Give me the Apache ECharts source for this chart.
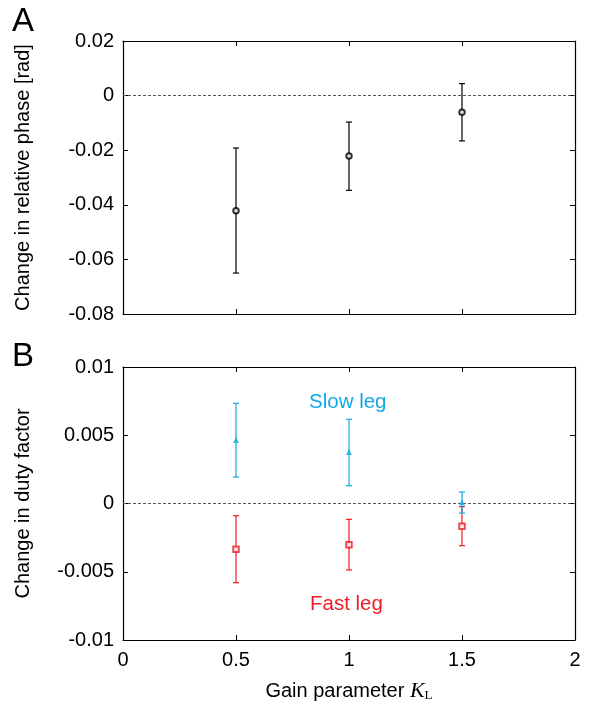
<!DOCTYPE html>
<html>
<head>
<meta charset="utf-8">
<script src="https://cdn.jsdelivr.net/npm/echarts@6/dist/echarts.min.js"></script>
<style>
  html, body { margin: 0; padding: 0; background: #fff; }
  #chart { width: 592px; height: 709px; }
</style>
</head>
<body>
<div id="chart"></div>
<script>
// data
const gains = [0.5, 1, 1.5];

// panel A: change in relative phase [rad]
const phaseMean = [-0.0422, -0.0221, -0.0061];
const phaseLow = [-0.0650, -0.0347, -0.0166];
const phaseHigh = [-0.0192, -0.0097, 0.0044];

// panel B: change in duty factor
const slowMean = [0.00465, 0.00377, 0.00009];
const slowLow = [0.00194, 0.00130, -0.00070];
const slowHigh = [0.00734, 0.00617, 0.00084];
const fastMean = [-0.00336, -0.00302, -0.00167];
const fastLow = [-0.00580, -0.00487, -0.00309];
const fastHigh = [-0.00089, -0.00116, -0.00023];

const xRange = [0, 2, 0.5];
const phaseRange = [-0.08, 0.02, 0.02];
const dutyRange = [-0.01, 0.01, 0.005];

const FONT = 'Liberation Sans';
const BLUE = '#12aae6';
const RED = '#ee1c25';

const chartDom = document.getElementById('chart');
const chart = echarts.init(chartDom);

function fmtNum(v) {
    if (Math.abs(v) < 1e-12) return '0';
    return String(Math.round(v * 1e6) / 1e6);
}

// one axis of the box, ticks pointing inward
function boxAxis(grid, pos, range, labels) {
    return {
        type: 'value',
        gridIndex: grid,
        position: pos,
        min: range[0],
        max: range[1],
        interval: range[2],
        axisLine: { show: true, onZero: false, lineStyle: { color: '#000', width: 1.2 } },
        axisTick: { show: true, inside: true, length: 5, lineStyle: { color: '#000', width: 1 } },
        axisLabel: {
            show: labels,
            color: '#000',
            fontFamily: FONT,
            fontSize: 20,
            margin: 9,
            formatter: fmtNum
        },
        splitLine: { show: false }
    };
}

function errorBar(color) {
    return function (params, api) {
        const x = api.value(0);
        const lo = api.coord([x, api.value(1)]);
        const hi = api.coord([x, api.value(2)]);
        const w = 3;
        const style = { stroke: color, lineWidth: 1.2 };
        return {
            type: 'group',
            children: [
                { type: 'line', shape: { x1: lo[0], y1: lo[1], x2: hi[0], y2: hi[1] }, style: style },
                { type: 'line', shape: { x1: lo[0] - w, y1: lo[1], x2: lo[0] + w, y2: lo[1] }, style: style },
                { type: 'line', shape: { x1: hi[0] - w, y1: hi[1], x2: hi[0] + w, y2: hi[1] }, style: style }
            ]
        };
    };
}

const zeroLine = {
    silent: true,
    symbol: ['none', 'none'],
    label: { show: false },
    lineStyle: { type: [3, 2], color: '#555', width: 1 },
    data: [{ yAxis: 0 }]
};

const xA = boxAxis(0, 'bottom', xRange, false);
const xATop = boxAxis(0, 'top', xRange, false);
const xB = boxAxis(1, 'bottom', xRange, true);
xB.axisLabel.margin = 10;
xB.name = 'Gain parameter {k|K}{l|L}';
xB.nameLocation = 'middle';
xB.nameGap = 40;
xB.nameTextStyle = {
    color: '#000',
    fontFamily: FONT,
    fontSize: 20,
    rich: {
        k: { fontFamily: 'Liberation Serif', fontStyle: 'italic', fontSize: 22, color: '#000' },
        l: { fontFamily: 'Liberation Serif', fontSize: 13, color: '#000', verticalAlign: 'bottom', padding: [6, 0, 0, 0] }
    }
};
const xBTop = boxAxis(1, 'top', xRange, false);

const yA = boxAxis(0, 'left', phaseRange, true);
yA.name = 'Change in relative phase [rad]';
yA.nameLocation = 'middle';
yA.nameGap = 90;
yA.nameTextStyle = { color: '#000', fontFamily: FONT, fontSize: 20 };
const yARight = boxAxis(0, 'right', phaseRange, false);

const yB = boxAxis(1, 'left', dutyRange, true);
yB.name = 'Change in duty factor';
yB.nameLocation = 'middle';
yB.nameGap = 90;
yB.nameTextStyle = { color: '#000', fontFamily: FONT, fontSize: 20 };
const yBRight = boxAxis(1, 'right', dutyRange, false);

const option = {
    animation: false,
    backgroundColor: '#fff',
    grid: [
        { left: 123, top: 41, width: 452, height: 273 },
        { left: 123, top: 367, width: 452, height: 273 }
    ],
    xAxis: [xA, xATop, xB, xBTop],
    yAxis: [yA, yARight, yB, yBRight],
    graphic: [
        { type: 'text', left: 12, top: 5, style: { text: 'A', font: '33px "Liberation Sans"', fill: '#000' } },
        { type: 'text', left: 12, top: 340, style: { text: 'B', font: '33px "Liberation Sans"', fill: '#000' } },
        { type: 'text', left: 309, top: 392, style: { text: 'Slow leg', font: '20.5px "Liberation Sans"', fill: BLUE } },
        { type: 'text', left: 310, top: 594, style: { text: 'Fast leg', font: '20.5px "Liberation Sans"', fill: RED } }
    ],
    series: [
        {
            type: 'custom',
            xAxisIndex: 0, yAxisIndex: 0,
            renderItem: errorBar('#000'),
            data: gains.map((g, i) => [g, phaseLow[i], phaseHigh[i]]),
            z: 2
        },
        {
            type: 'scatter',
            xAxisIndex: 0, yAxisIndex: 0,
            symbol: 'emptyCircle',
            symbolSize: 5.5,
            itemStyle: { color: '#000', borderColor: '#000', borderWidth: 0.9 },
            data: gains.map((g, i) => [g, phaseMean[i]]),
            markLine: zeroLine,
            z: 3
        },
        {
            type: 'custom',
            xAxisIndex: 2, yAxisIndex: 2,
            renderItem: errorBar(RED),
            data: gains.map((g, i) => [g, fastLow[i], fastHigh[i]]),
            z: 2
        },
        {
            type: 'scatter',
            xAxisIndex: 2, yAxisIndex: 2,
            symbol: 'emptyRect',
            symbolSize: 5.5,
            itemStyle: { color: RED, borderColor: RED, borderWidth: 0.9 },
            data: gains.map((g, i) => [g, fastMean[i]]),
            markLine: zeroLine,
            z: 3
        },
        {
            type: 'custom',
            xAxisIndex: 2, yAxisIndex: 2,
            renderItem: errorBar(BLUE),
            data: gains.map((g, i) => [g, slowLow[i], slowHigh[i]]),
            z: 4
        },
        {
            type: 'scatter',
            xAxisIndex: 2, yAxisIndex: 2,
            symbol: 'triangle',
            symbolSize: 6,
            itemStyle: { color: BLUE },
            data: gains.map((g, i) => [g, slowMean[i]]),
            z: 5
        }
    ]
};

chart.setOption(option);
</script>
</body>
</html>
